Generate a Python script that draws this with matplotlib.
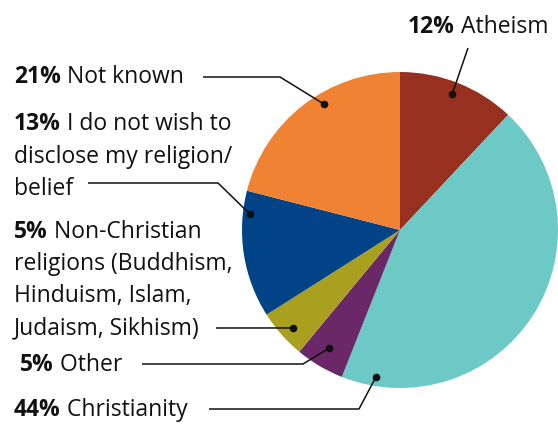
import numpy as np
import matplotlib.pyplot as plt

plt.rcParams["font.family"] = ["Open Sans", "DejaVu Sans"]

# data, clockwise from 12 o'clock
categories = ["Atheism", "Christianity", "Other",
              "Non-Christian religions (Buddhism, Hinduism, Islam, Judaism, Sikhism)",
              "I do not wish to disclose my religion/belief", "Not known"]
shares = [12, 44, 5, 5, 13, 21]
colors = ["#97301E", "#6CC9C6", "#6A2869", "#A9A01F", "#004387", "#F08234"]
label_lines = [
    ["Atheism"],
    ["Christianity"],
    ["Other"],
    ["Non-Christian", "religions (Buddhism,", "Hinduism, Islam,", "Judaism, Sikhism)"],
    ["I do not wish to", "disclose my religion/", "belief"],
    ["Not known"],
]

W, H = 558, 425
CX, CY, R = 400, 230, 158  # pie centre/radius in pixels (y from top)
FS = 16.5

# label layout: (text x, first baseline y, line step), leader path (from text), dot (angle, radius)
text_pos = [(408, 33, 0), (14, 416, 0), (20, 371, 0), (14, 238, 32), (14, 130, 32.5), (14, 83, 0)]
leaders = [
    [(468, 48)],
    [(209, 409), (359, 409)],
    [(142, 364), (303, 364)],
    [(216, 328)],
    [(88, 183), (218, 183)],
    [(203, 77), (280, 77)],
]
dots = [(69, 146), (-99.3, 149), (-121, 138), (-137.5, 145), (173.9, 151), (121.1, 147)]


def fy(y):
    return H - y


fig = plt.figure(figsize=(W / 100, H / 100), dpi=100)
ax = fig.add_axes([0, 0, 1, 1])
ax.pie(shares, colors=colors, startangle=90, counterclock=False,
       center=(CX, fy(CY)), radius=R, frame=True,
       wedgeprops=dict(linewidth=0))
ax.set_xlim(0, W)
ax.set_ylim(0, H)
ax.set_aspect("equal")
ax.axis("off")

for i, lines in enumerate(label_lines):
    x, y0, step = text_pos[i]
    pct = ax.text(x, fy(y0), f"{shares[i]}%", fontsize=FS, fontweight="bold",
                  color="#111111", ha="left", va="baseline")
    ax.annotate(" " + lines[0], xy=(1, 0), xycoords=pct, fontsize=FS,
                color="#111111", ha="left", va="bottom")
    for j, line in enumerate(lines[1:], start=1):
        ax.text(x, fy(y0 + j * step), line, fontsize=FS, color="#111111",
                ha="left", va="baseline")
    ang, r = dots[i]
    dx = CX + r * np.cos(np.radians(ang))
    dy = CY - r * np.sin(np.radians(ang))
    pts = leaders[i] + [(dx, dy)]
    ax.plot([p[0] for p in pts], [fy(p[1]) for p in pts], color="#111111", lw=1.1,
            solid_capstyle="butt")
    ax.plot(dx, fy(dy), "o", color="#111111", ms=4.5)

fig.savefig("out.png", dpi=100)
